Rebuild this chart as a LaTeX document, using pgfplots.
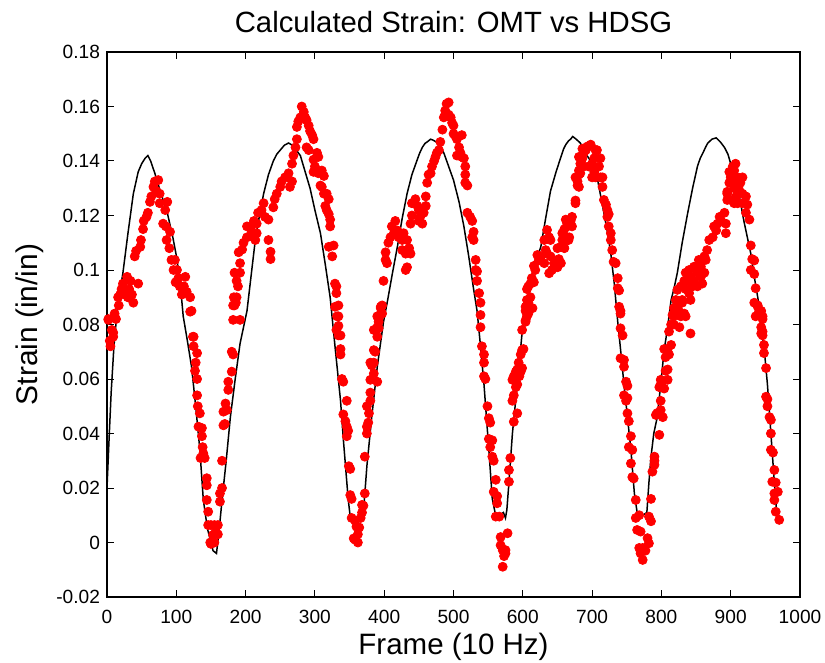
\documentclass[border=0pt]{standalone}
\usepackage{fontspec}
\setmainfont{Liberation Sans}
\usepackage{pgfplots}
\pgfplotsset{compat=1.18}

% HDSG strain (black line)
\pgfplotstableread{
x y
0 0.020
3 0.038
6 0.055
10 0.072
15 0.086
23 0.099
30 0.113
38 0.128
45 0.136
50 0.139
55 0.141
59 0.142
63 0.140
69 0.1355
78 0.128
87 0.121
95 0.112
101 0.104
106 0.094
110 0.083
116 0.074
122 0.0645
128 0.050
134 0.034
139 0.0156
145 0.005
149 0.001
153 -0.003
158 -0.004
162 0.005
166 0.0156
172 0.030
178 0.046
185 0.060
192 0.073
202 0.085
208 0.098
214 0.111
220 0.120
226 0.128
233 0.135
240 0.140
245 0.1425
250 0.144
256 0.1458
262 0.1466
266 0.146
270 0.145
279 0.142
286 0.136
293 0.130
300 0.122
308 0.1135
315 0.102
322 0.090
329 0.072
337 0.052
341 0.038
348 0.016
351 0.0094
356 0.007
362 0.007
370 0.011
375 0.028
382 0.046
390 0.0645
399 0.081
405 0.089
412 0.099
419 0.1085
426 0.119
433 0.128
440 0.135
447 0.140
451 0.1428
455 0.145
459 0.1465
462 0.147
467 0.148
471 0.1476
475 0.147
480 0.1455
486 0.143
493 0.138
500 0.133
508 0.125
515 0.116
522 0.105
529 0.093
534 0.085
539 0.072
544 0.058
551 0.034
556 0.016
560 0.011
566 0.010
572 0.011
575 0.009
577 0.012
580 0.022
585 0.040
592 0.058
599 0.077
606 0.087
612 0.097
619 0.1035
626 0.1085
633 0.119
640 0.129
648 0.136
655 0.1415
659 0.1445
662 0.146
666 0.1474
669 0.148
672 0.149
677 0.148
683 0.1466
690 0.143
698 0.140
708 0.133
717 0.121
722 0.114
727 0.106
732 0.095
737 0.081
741 0.071
746 0.058
751 0.046
756 0.034
761 0.018
765 0.011
773 0.010
779 0.011
782 0.022
785 0.0315
789 0.040
794 0.046
799 0.058
804 0.0706
809 0.079
814 0.089
818 0.093
823 0.099
830 0.110
838 0.121
845 0.130
852 0.138
856 0.141
860 0.143
864 0.1452
867 0.1466
873 0.148
879 0.1485
885 0.147
891 0.145
896 0.1425
900 0.139
905 0.135
910 0.1305
919 0.118
929 0.106
935 0.096
941 0.087
944 0.078
948 0.072
953 0.058
958 0.040
963 0.022
966 0.012
}\hdsg

\begin{document}
\begin{tikzpicture}
\begin{axis}[
    scale only axis,
    width=346.5bp, height=272.5bp,
    xmin=0, xmax=1000, ymin=-0.02, ymax=0.18,
    axis line style={line width=0.8bp},
    tick align=inside, tick pos=both,
    major tick length=3.5bp,
    every tick/.style={black, line width=0.5bp},
    xtick={0,100,200,300,400,500,600,700,800,900,1000},
    xticklabels={0,100,200,300,400,500,600,700,800,900,1000},
    ytick={-0.02,0,0.02,0.04,0.06,0.08,0.1,0.12,0.14,0.16,0.18},
    yticklabels={-0.02,0,0.02,0.04,0.06,0.08,0.1,0.12,0.14,0.16,0.18},
    ticklabel style={font=\fontsize{9.6}{11}\selectfont},
    xticklabel style={yshift=-3.2bp},
    title={Calculated Strain: OMT vs HDSG},
    title style={font=\fontsize{14.7}{17}\selectfont, at={(axis description cs:0.5,1.0147)}, anchor=base},
    xlabel={Frame (10 Hz)},
    xlabel style={font=\fontsize{14.8}{17}\selectfont, at={(axis description cs:0.5,-0.1046)}, anchor=base},
    ylabel={Strain (in/in)},
    ylabel style={font=\fontsize{15}{17}\selectfont, at={(axis description cs:-0.101,0.5)}, anchor=base},
]
\addplot[black, line width=0.75bp] table[x=x, y=y] {\hdsg};
\addplot[only marks, mark=*, mark size=2.25bp, color=red, mark options={fill=red, draw=red}] coordinates {
(2,0.0817)(2,0.082)(4,0.074)(5,0.072)(7,0.078)(9,0.0755)(9,0.077)(11,0.084)(13,0.082)(16,0.090)(17,0.087)(19,0.091)(21,0.093)(23,0.095)(26,0.091)(29,0.0975)(30,0.090)(32,0.093)(34,0.096)(36,0.091)(38,0.088)(40,0.105)(42,0.107)(45,0.095)(48,0.1085)(49,0.111)(52,0.115)(53,0.118)(57,0.1195)(59,0.121)(62,0.125)(64,0.127)(67,0.1305)(69,0.1325)(71,0.129)(74,0.133)(76,0.128)(76,0.1245)(81,0.117)(84,0.122)(85,0.116)(86,0.111)(87,0.125)(90,0.108)(91,0.114)(93,0.1037)(96,0.100)(98,0.1037)(99,0.0955)(101,0.100)(103,0.097)(105,0.094)(108,0.091)(111,0.094)(113,0.0975)(115,0.092)(120,0.090)(120,0.0847)(122,0.085)(124,0.0755)(125,0.072)(125,0.0755)
(127,0.063)(128,0.066)(130,0.0695)(130,0.060)(130,0.054)(131,0.050)(132,0.0425)(134,0.0474)(135,0.031)(137,0.042)(137,0.039)(138,0.035)(139,0.0327)(141,0.031)(144,0.0236)(144,0.021)(144,0.0156)(146,0.0113)(146,0.0064)(149,0.0)(150,0.0064)(150,-0.0005)(153,0.0028)(155,0.0064)(155,0.0)(157,0.004)(160,0.0064)(160,0.003)(163,0.015)(163,0.018)(166,0.020)(166,0.030)(168,0.043)(168,0.048)(170,0.0435)(171,0.051)(173,0.0486)(175,0.056)(175,0.059)(180,0.0627)(180,0.070)(182,0.069)(182,0.0817)(182,0.087)(183,0.09)(184,0.087)(186,0.088)(187,0.090)(187,0.096)(189,0.094)(192,0.0817)(192,0.099)(184,0.099)(192,0.1025)(190,0.1065)(195,0.1075)(197,0.11)(202,0.112)(202,0.116)(207,0.116)(209,0.114)(212,0.112)(212,0.118)(214,0.111)(216,0.1135)(216,0.117)(218,0.121)(223,0.122)(226,0.1245)(228,0.1195)(233,0.1185)(233,0.111)(236,0.1067)(236,0.104)(240,0.123)(242,0.126)(245,0.128)(250,0.1305)(252,0.1325)(257,0.134)(262,0.1355)(264,0.1305)(267,0.1325)(267,0.139)(269,0.142)(272,0.145)(274,0.148)(274,0.1525)(276,0.1545)(279,0.156)(281,0.160)(284,0.158)(286,0.156)(288,0.155)(288,0.145)(291,0.153)(291,0.144)(293,0.151)(296,0.1495)(298,0.148)(298,0.1405)(298,0.136)(300,0.138)(303,0.143)(305,0.1415)(305,0.1355)(308,0.131)(310,0.1365)(310,0.1305)(313,0.1345)(313,0.128)(315,0.1235)(317,0.128)(317,0.122)(320,0.126)(320,0.1205)(320,0.1085)(322,0.1185)(322,0.116)(325,0.105)(327,0.109)(329,0.095)(329,0.0865)(331,0.094)(331,0.0915)(331,0.078)(334,0.083)(334,0.076)(334,0.087)(332,0.083)(334,0.0795)(337,0.076)(337,0.071)(337,0.069)(339,0.060)(341,0.059)(346,0.052)(341,0.047)(344,0.0445)(346,0.0425)(348,0.041)(346,0.039)(349,0.028)(351,0.027)(351,0.0174)(353,0.016)(353,0.009)(358,0.008)(366,0.009)(368,0.011)(360,0.0058)(364,0.0055)(358,0.001)(362,0.0)(356,0.0015)(362,0.003)(368,0.0138)(370,0.0135)(372,0.018)(372,0.0315)(375,0.040)(375,0.0425)(377,0.044)(378,0.0474)(375,0.050)(380,0.052)(380,0.055)(380,0.0597)(385,0.062)(382,0.065)(385,0.066)(380,0.066)(390,0.059)(385,0.0706)(387,0.070)(390,0.0755)(385,0.078)(392,0.0786)(392,0.081)(390,0.083)(395,0.084)(395,0.086)(397,0.087)(390,0.079)(387,0.078)(392,0.082)(395,0.0865)(397,0.084)(399,0.096)(402,0.1037)(404,0.1025)(402,0.1065)(406,0.110)(409,0.112)(414,0.1135)(411,0.116)(416,0.118)(419,0.1145)(421,0.112)(426,0.111)(428,0.1135)(433,0.111)(426,0.1073)(431,0.106)(433,0.101)(431,0.100)(438,0.106)(436,0.108)(438,0.117)(440,0.12)(440,0.1245)(445,0.126)(448,0.1235)(450,0.122)(452,0.1195)(455,0.117)(450,0.118)(457,0.121)(460,0.1235)(460,0.127)(462,0.132)(464,0.135)(467,0.1355)(469,0.138)(472,0.140)(474,0.1415)(476,0.143)(479,0.144)(481,0.147)(484,0.1515)(486,0.156)(488,0.1585)(490,0.161)(493,0.1615)(488,0.157)(493,0.157)(496,0.156)(498,0.154)(500,0.153)(500,0.150)(503,0.149)(505,0.148)(512,0.1495)(508,0.145)(510,0.143)(512,0.1415)(505,0.142)(515,0.141)(517,0.138)(517,0.135)(517,0.132)(520,0.131)(520,0.121)(524,0.1195)(527,0.118)(529,0.114)(527,0.112)(529,0.111)(532,0.1037)(532,0.100)(534,0.0995)(534,0.096)(537,0.0915)(539,0.088)(539,0.0835)(539,0.079)(541,0.072)(544,0.069)(544,0.066)(544,0.061)(546,0.060)(549,0.050)(551,0.0456)(553,0.044)(551,0.038)(556,0.0375)(553,0.035)(556,0.0315)(558,0.030)(561,0.023)(558,0.0186)(563,0.017)(563,0.0144)(561,0.0095)(566,0.0095)(568,0.002)(578,0.0034)(568,-0.001)(571,-0.0028)(575,-0.0028)(573,-0.005)(571,-0.0089)(575,-0.004)
(580,0.0266)(582,0.031)(580,0.0223)(587,0.0443)(592,0.0474)(585,0.052)(587,0.054)(590,0.057)(592,0.058)(585,0.0597)(587,0.061)(590,0.0627)(592,0.0635)(595,0.061)(597,0.0627)(599,0.064)(594,0.066)(597,0.069)(599,0.0706)(601,0.071)(599,0.078)(604,0.081)(606,0.083)(604,0.085)(608,0.084)(614,0.086)(608,0.087)(606,0.089)(604,0.0815)(606,0.084)(604,0.0865)(608,0.088)(611,0.090)(606,0.093)(608,0.094)(611,0.095)(616,0.0955)(613,0.097)(618,0.100)(616,0.1015)(623,0.1035)(626,0.105)(621,0.1055)(631,0.1025)(633,0.1073)(631,0.111)(635,0.1147)(638,0.112)(640,0.111)(635,0.106)(640,0.105)(638,0.0988)(642,0.100)(645,0.1025)(650,0.101)(652,0.104)(650,0.108)(655,0.1085)(657,0.111)(662,0.112)(660,0.115)(664,0.116)(667,0.117)(662,0.1185)(669,0.118)(671,0.1195)(667,0.112)(660,0.108)(676,0.134)(679,0.131)(681,0.135)(681,0.1415)(657,0.1135)(659,0.1085)(655,0.1025)(664,0.117)(666,0.111)(669,0.1185)(671,0.116)(676,0.1245)(676,0.1255)(681,0.1305)(679,0.1325)(683,0.1355)(681,0.1365)(683,0.139)(686,0.141)(688,0.143)(691,0.144)(686,0.1445)(693,0.1453)(698,0.146)(688,0.138)(695,0.138)(700,0.139)(703,0.141)(705,0.144)(707,0.144)(712,0.141)(710,0.138)(703,0.136)(700,0.134)(705,0.134)(712,0.134)(715,0.134)(715,0.1305)(717,0.1257)(720,0.124)(722,0.122)(724,0.1205)(722,0.1195)(724,0.116)(727,0.1135)(727,0.111)(729,0.1073)(731,0.103)(734,0.1025)(737,0.097)(737,0.0933)(739,0.0925)(739,0.0865)(741,0.085)(741,0.0786)(744,0.076)(741,0.084)(741,0.0676)(746,0.067)(746,0.0645)(749,0.059)(751,0.0575)(746,0.054)(749,0.052)(751,0.053)(751,0.0474)(753,0.0445)(756,0.039)(753,0.035)(758,0.034)(756,0.029)(758,0.024)(760,0.0235)(763,0.0156)(763,0.009)(768,0.010)(765,0.0046)(770,0.004)(768,-0.002)(773,-0.002)(770,-0.004)(773,-0.0064)(777,-0.003)(782,-0.0003)(780,0.0016)(782,0.0095)(785,0.0078)(785,0.016)(787,0.026)(790,0.0285)(790,0.0315)(790,0.030)(797,0.0395)(792,0.0468)(794,0.0475)(799,0.0486)(802,0.046)(799,0.052)(797,0.057)(799,0.058)(804,0.0565)(799,0.0597)(809,0.0597)(806,0.063)(809,0.0635)(806,0.068)(811,0.069)(809,0.071)(814,0.0725)(804,0.071)(811,0.0774)(814,0.08)(818,0.083)(821,0.084)(825,0.085)(828,0.083)(833,0.084)(835,0.083)(818,0.086)(823,0.087)(830,0.088)(842,0.0767)(842,0.089)(816,0.0835)(821,0.0865)(826,0.079)(818,0.080)(821,0.089)(830,0.089)(823,0.0927)(828,0.094)(833,0.096)(835,0.093)(840,0.0915)(845,0.094)(838,0.096)(842,0.0975)(847,0.096)(835,0.099)(840,0.100)(852,0.099)(857,0.0975)(859,0.095)(852,0.094)(857,0.1012)(862,0.099)(847,0.1012)(854,0.1037)(862,0.105)(866,0.1073)(864,0.1037)(869,0.111)(874,0.112)(876,0.116)(879,0.1145)(881,0.117)(884,0.1195)(886,0.118)(891,0.121)(893,0.1135)(893,0.117)(895,0.1257)(895,0.1287)(898,0.132)(900,0.134)(898,0.136)(903,0.138)(907,0.139)(905,0.1365)(903,0.133)(907,0.132)(910,0.134)(914,0.132)(917,0.134)(905,0.130)(912,0.1295)(917,0.128)(922,0.127)(895,0.128)(900,0.1257)(908,0.127)(910,0.1245)(905,0.1245)(917,0.1245)(924,0.124)(922,0.121)(927,0.1185)(929,0.109)(931,0.104)(934,0.1035)(929,0.100)(934,0.0985)(936,0.0933)(934,0.088)(939,0.0865)(941,0.0847)(944,0.085)(946,0.083)(944,0.079)(946,0.076)(939,0.087)(941,0.084)(936,0.083)(946,0.082)(944,0.0767)(946,0.0774)(948,0.0725)(948,0.0695)(951,0.064)(951,0.0535)(953,0.0526)(953,0.050)(956,0.046)(958,0.045)(958,0.040)(958,0.034)(961,0.033)(963,0.0266)(960,0.0223)(965,0.022)(963,0.018)(968,0.0186)(963,0.0156)(965,0.0113)(970,0.0083)
};
\end{axis}
\pgfresetboundingbox
\path (current axis.south west) ++(-53.5bp,-33bp) rectangle ([xshift=12.5bp,yshift=26bp]current axis.north east);
\end{tikzpicture}
\end{document}
